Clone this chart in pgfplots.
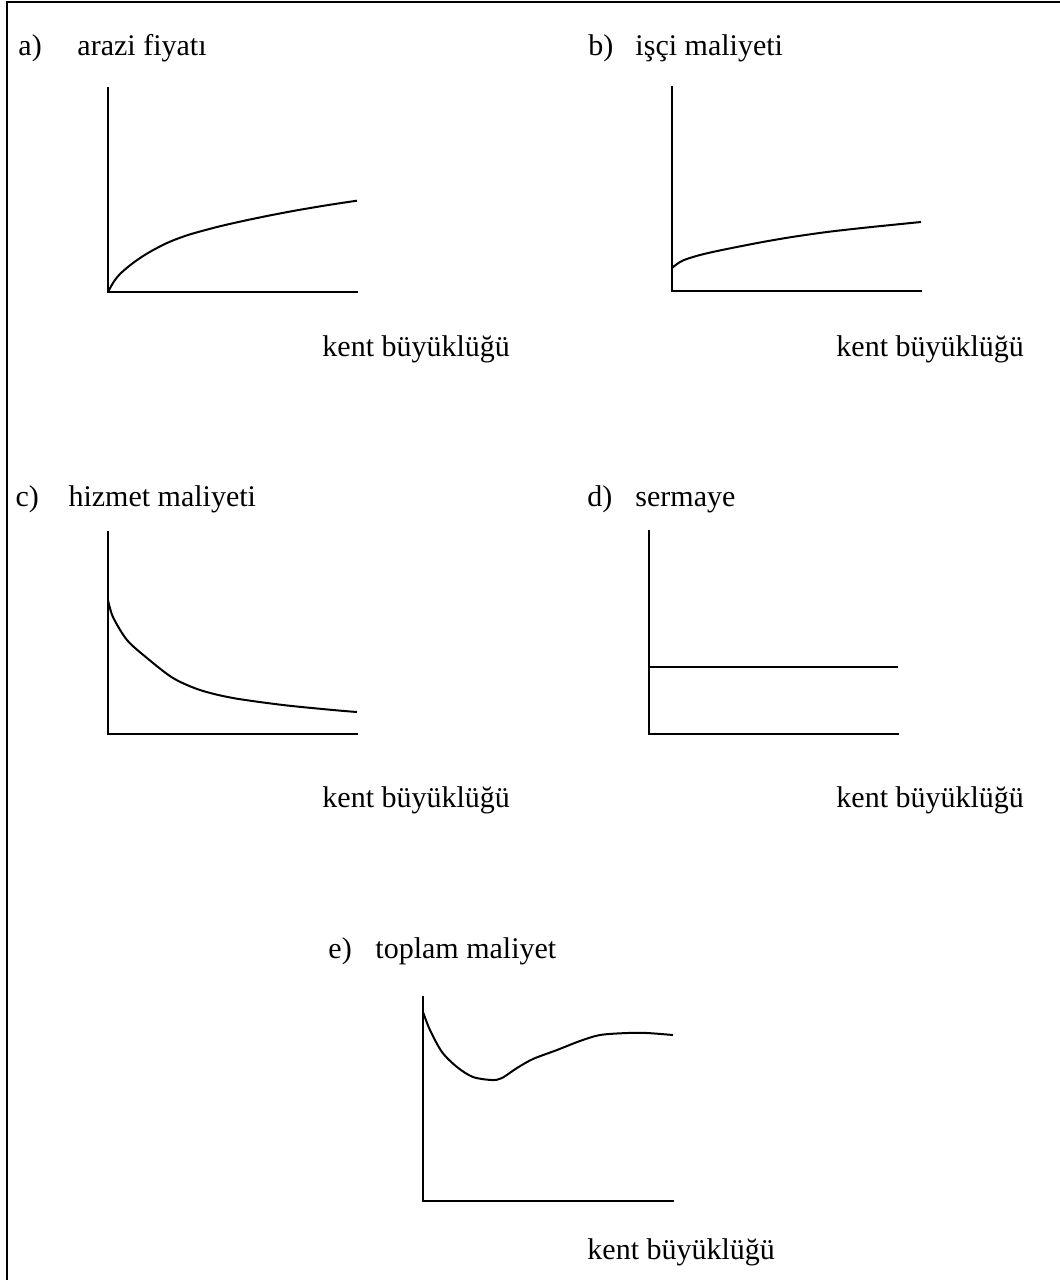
\documentclass[border=0pt]{standalone}
\usepackage{fontspec}
\setmainfont{Liberation Serif}
\usepackage{pgfplots}
\pgfplotsset{compat=1.18}

% positions follow the reference's pixel grid: 1 px = 0.4pt, y downwards
\pgfplotsset{
  panel/.style={
    scale only axis,
    anchor=south west,
    axis lines=left,
    axis line style={-, line width=0.8pt, line cap=rect},
    xtick=\empty, ytick=\empty,
    xmin=0, ymin=0,
    clip=false,
  },
  curve/.style={black, line width=0.8pt, mark=none, smooth, line join=round},
}

\begin{document}
\begin{tikzpicture}[x=0.4pt, y=-0.4pt,
  lbl/.style={anchor=base west, inner sep=0pt, font=\fontsize{12pt}{14pt}\selectfont}]
\useasboundingbox (0,0) rectangle (1060,1280);
\draw[line width=1pt] (7,1280) -- (7,2) -- (1060,2);

% a) arazi fiyati
\node[lbl] at (18,55) {a)};
\node[lbl] at (77,55) {arazi fiyatı};
\node[lbl] at (322,356) {kent büyüklüğü};
% b) isci maliyeti
\node[lbl] at (588,55) {b)};
\node[lbl] at (635,55) {işçi maliyeti};
\node[lbl] at (836,356) {kent büyüklüğü};
% c) hizmet maliyeti
\node[lbl] at (15,506) {c)};
\node[lbl] at (68,506) {hizmet maliyeti};
\node[lbl] at (322,807) {kent büyüklüğü};
% d) sermaye
\node[lbl] at (587,506) {d)};
\node[lbl] at (635,506) {sermaye};
\node[lbl] at (836,807) {kent büyüklüğü};
% e) toplam maliyet
\node[lbl] at (328,958) {e)};
\node[lbl] at (375,958) {toplam maliyet};
\node[lbl] at (587,1259) {kent büyüklüğü};
\end{tikzpicture}%
\hspace{-424pt}%
\begin{tikzpicture}
\useasboundingbox (0,0) rectangle (424pt,-512pt);
\begin{axis}[panel, at={(43.2pt,-116.8pt)}, width=99.6pt, height=81.6pt, xmax=249, ymax=204]
  \addplot[curve] coordinates {
    (0,0) (5,9) (12,18) (25,29) (40,39) (59,49) (80,57) (109,65)
    (135,71) (160,76.2) (185,81) (210,85.3) (230,88.5) (249,91.3)
  };
\end{axis}
\begin{axis}[panel, at={(268.8pt,-116.4pt)}, width=99.6pt, height=81.6pt, xmax=249, ymax=204]
  \addplot[curve] coordinates {
    (0,23) (5,27) (12,31) (28,36) (50,41) (88,48.5) (120,54)
    (155,59) (190,63) (221,66.2) (249,69)
  };
\end{axis}
\begin{axis}[panel, at={(43.2pt,-293.6pt)}, width=99.6pt, height=80.8pt, xmax=249, ymax=202]
  \addplot[curve] coordinates {
    (0,134) (5,117) (19,94) (39,76) (65,56) (92,44) (125,36)
    (175,29) (225,24) (249,22)
  };
\end{axis}
\begin{axis}[panel, at={(259.6pt,-293.6pt)}, width=99.6pt, height=81.2pt, xmax=249, ymax=203]
  \addplot[curve] coordinates {(0,67) (249,67)};
\end{axis}
\begin{axis}[panel, at={(169.2pt,-480.4pt)}, width=100pt, height=81.6pt, xmax=250, ymax=204]
  \addplot[curve] coordinates {
    (0,189) (7,171) (19,149) (34,134) (50,124) (69,121) (79,123)
    (94,133) (110,142) (134,151) (157,160) (177,166) (204,168)
    (224,168) (250,166)
  };
\end{axis}
\end{tikzpicture}
\end{document}
